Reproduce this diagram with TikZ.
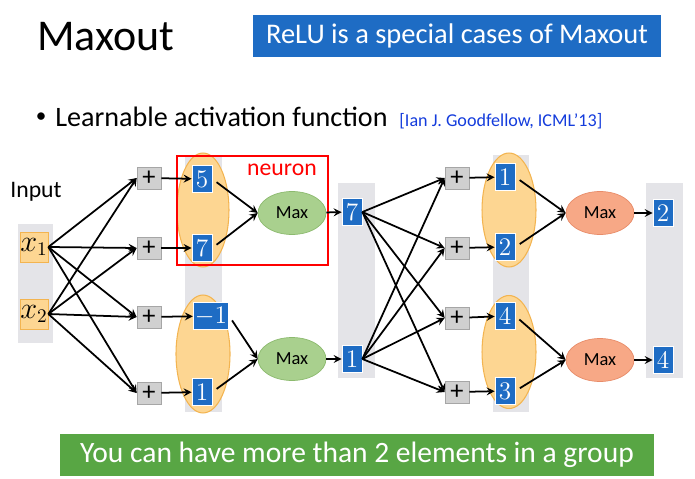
\documentclass[tikz,border=0pt]{standalone}
\usepackage{fontspec}
\setmainfont{Carlito}
\usepackage{tikz}
\usetikzlibrary{arrows}
\usetikzlibrary{shapes,positioning}

\definecolor{boxblue}{RGB}{30,108,196}
\definecolor{bargray}{RGB}{228,228,232}
\definecolor{grpfill}{RGB}{253,214,146}
\definecolor{grpline}{RGB}{243,180,80}
\definecolor{maxgreen}{RGB}{169,208,142}
\definecolor{maxgreenline}{RGB}{140,186,110}
\definecolor{maxorange}{RGB}{247,168,134}
\definecolor{maxorangeline}{RGB}{232,140,105}
\definecolor{bannergreen}{RGB}{88,166,68}
\definecolor{plusfill}{RGB}{208,208,208}
\definecolor{refblue}{RGB}{20,60,220}

\tikzset{>=stealth,
  bar/.style={fill=bargray},
  grp/.style={ellipse,fill=grpfill,draw=grpline,line width=0.6pt},
  inbox/.style={fill=grpfill,draw=grpline,minimum width=0.56cm,minimum height=0.6cm,
    inner sep=0pt,font=\fontsize{16}{16}\selectfont},
  plusbox/.style={fill=plusfill,draw=gray!70,minimum width=0.48cm,minimum height=0.44cm,
    inner sep=0pt,font=\fontsize{15}{15}\selectfont},
  valbox/.style={fill=boxblue,draw=white,line width=0.4pt,text=white,minimum width=0.4cm,
    minimum height=0.54cm,inner sep=1pt,font=\fontsize{15}{15}\selectfont},
  maxg/.style={ellipse,fill=maxgreen,draw=maxgreenline,minimum width=1.36cm,
    minimum height=0.86cm,inner sep=0pt,font=\fontsize{10.5}{10.5}\selectfont},
  maxo/.style={maxg,fill=maxorange,draw=maxorangeline},
  arr/.style={->,line width=1pt}
}

\begin{document}
\begin{tikzpicture}[x=0.02cm,y=-0.02cm]
  \useasboundingbox (0,0) rectangle (695,479);

  % heading
  \node[anchor=west,font=\fontsize{25}{25}\selectfont] (title) at (31,37) {Maxout};
  \node[fill=boxblue,text=white,minimum width=8.18cm,minimum height=0.84cm,
    font=\fontsize{16.2}{16.2}\selectfont] (relu) at (457,36) {ReLU is a special cases of Maxout};
  \node[font=\fontsize{12}{12}\selectfont] (dot) at (41,118) {•};
  \node[anchor=base west,inner sep=0pt,font=\fontsize{16}{16}\selectfont] (bullet) at (55,127)
    {Learnable activation function};
  \node[anchor=base west,text=refblue,font=\fontsize{10.3}{10.3}\selectfont] (ref)
    at ([xshift=3pt]bullet.base east) {[Ian J. Goodfellow, ICML'13]};

  % gray columns
  \fill[bar] (18,224) rectangle (53,343);
  \fill[bar] (185,155) rectangle (222,412);
  \fill[bar] (338,183) rectangle (375,378);
  \fill[bar] (493,155) rectangle (529,412);
  \fill[bar] (646,183) rectangle (683,378);

  % groups
  \node[grp,minimum width=1.04cm,minimum height=2.28cm] (g1) at (203,210) {};
  \node[grp,minimum width=1.08cm,minimum height=2.36cm] (g2) at (203,354) {};
  \node[grp,minimum width=1.08cm,minimum height=2.28cm] (g3) at (509,210) {};
  \node[grp,minimum width=1.08cm,minimum height=2.26cm] (g4) at (509,352) {};

  \node[font=\fontsize{13.5}{13.5}\selectfont] (input) at (36,192) {Input};
  \node[inbox] (x1) at (34,247) {$x_1$};
  \node[inbox] (x2) at (34,314) {$x_2$};

  \node[plusbox] (p1) at (149,178) {+};
  \node[plusbox] (p2) at (149,248) {+};
  \node[plusbox] (p3) at (149,317) {+};
  \node[plusbox] (p4) at (149,393) {+};

  \node[valbox] (a1) at (202,179) {$5$};
  \node[valbox] (a2) at (202,248) {$7$};
  \node[valbox] (a3) at (211,316) {$-1$};
  \node[valbox] (a4) at (202,392) {$1$};

  \node[maxg] (m1) at (292,213) {Max};
  \node[maxg] (m2) at (292,359) {Max};

  \node[valbox] (h1) at (352,212) {$7$};
  \node[valbox] (h2) at (352,359) {$1$};

  \node[plusbox] (q1) at (457,178) {+};
  \node[plusbox] (q2) at (457,248) {+};
  \node[plusbox] (q3) at (457,318) {+};
  \node[plusbox] (q4) at (457,392) {+};

  \node[valbox] (b1) at (505,177) {$1$};
  \node[valbox] (b2) at (505,247) {$2$};
  \node[valbox] (b3) at (505,316) {$4$};
  \node[valbox] (b4) at (505,391) {$3$};

  \node[maxo] (n1) at (600,213) {Max};
  \node[maxo] (n2) at (600,360) {Max};

  \node[valbox] (o1) at (663,213) {$2$};
  \node[valbox] (o2) at (663,360) {$4$};

  % neuron box
  \draw[red,line width=1.5pt] (177,156) rectangle (328,265);
  \node[text=red,font=\fontsize{13.5}{13.5}\selectfont] (neuron) at (282,170) {neuron};

  % connections
  \foreach \s in {x1,x2}
    \foreach \t in {p1,p2,p3,p4}
      \draw[arr] (\s.east) -- (\t.west);
  \draw[arr] (p1) -- (a1);
  \draw[arr] (p2) -- (a2);
  \draw[arr] (p3) -- (a3);
  \draw[arr] (p4) -- (a4);
  \draw[arr,shorten <=3pt] (a1.east) -- (m1.west);
  \draw[arr,shorten <=3pt] (a2.east) -- (m1.west);
  \draw[arr,shorten <=3pt] (a3.east) -- (m2.west);
  \draw[arr,shorten <=3pt] (a4.east) -- (m2.west);
  \draw[arr] (m1) -- (h1);
  \draw[arr] (m2) -- (h2);

  \foreach \s in {h1,h2}
    \foreach \t in {q1,q2,q3,q4}
      \draw[arr] (\s.east) -- (\t.west);
  \draw[arr] (q1) -- (b1);
  \draw[arr] (q2) -- (b2);
  \draw[arr] (q3) -- (b3);
  \draw[arr] (q4) -- (b4);
  \draw[arr,shorten <=3pt] (b1.east) -- (n1.west);
  \draw[arr,shorten <=3pt] (b2.east) -- (n1.west);
  \draw[arr,shorten <=3pt] (b3.east) -- (n2.west);
  \draw[arr,shorten <=3pt] (b4.east) -- (n2.west);
  \draw[arr] (n1) -- (o1);
  \draw[arr] (n2) -- (o2);

  % banner
  \node[fill=bannergreen,text=white,minimum width=11.9cm,minimum height=0.84cm,
    font=\fontsize{16.8}{16.8}\selectfont] (group) at (357,455)
    {You can have more than 2 elements in a group};

\end{tikzpicture}
\end{document}
